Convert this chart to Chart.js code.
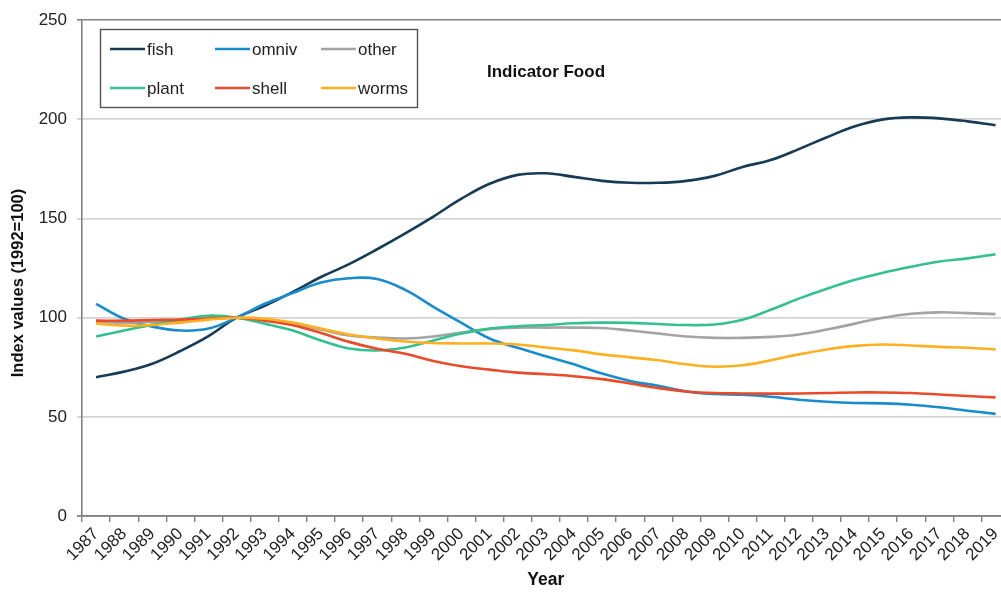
<!DOCTYPE html>
<html>
<head>
<meta charset="utf-8">
<script src="https://cdn.jsdelivr.net/npm/chart.js@4.4.1/dist/chart.umd.min.js"></script>
<style>
  html, body { margin: 0; padding: 0; background: #fff; overflow: hidden; }
  #wrap { width: 1001px; height: 592px; overflow: hidden; position: relative; }
  canvas { display: block; }
</style>
</head>
<body>
<div id="wrap"><canvas id="c" width="1012" height="592" style="width:1012px;height:592px"></canvas></div>
<script>
const years = ['1987','1988','1989','1990','1991','1992','1993','1994','1995','1996','1997','1998','1999','2000','2001','2002','2003','2004','2005','2006','2007','2008','2009','2010','2011','2012','2013','2014','2015','2016','2017','2018','2019'];
const fish  = [70,72.8,76.8,83.2,90.7,100,106,113,120.5,127,134.5,142.5,151,160,167.5,172,172.8,171,169,168,168,169,171.5,176,179.5,185,191,196.5,200,201,200.5,199,197];
const omniv = [107,99.5,95.5,93.5,94.5,100,107,112.4,117.7,119.9,119.5,114,105.5,97.4,89.5,84.8,80.6,76.5,71.8,68.1,65.6,62.8,61.5,61.1,60.1,58.6,57.6,57,56.8,56.1,54.8,53.1,51.5];
const other = [98,97.5,98,98.5,99.5,100,99,97,94,91,90,89.5,90.5,92.5,94.3,95,95,95,94.8,93.5,92,90.5,89.8,89.8,90.3,91.5,94,97,100,102,102.7,102.3,101.8];
const plant = [90.5,93.5,96.5,99,101,100,97,93.5,88.5,84.5,83.5,85,88.5,92,94.5,95.7,96.3,97.2,97.5,97.4,96.8,96.3,96.6,99,104,109.6,114.6,119.1,122.7,125.7,128.3,129.9,132];
const shell = [98.5,98.5,98.8,99,99.5,100,98.5,96.2,92.3,87.8,84.3,81.8,78.2,75.5,73.8,72.3,71.5,70.5,69,66.8,64.5,62.8,62,61.8,61.7,61.8,62,62.3,62.3,62,61.3,60.5,59.8];
const worms = [97,96,96.3,97.5,99,100,99.5,97.5,94.5,91.5,89.5,88,87.2,87,87,86.5,85,83.5,81.5,80,78.5,76.5,75.3,76,78.5,81.5,84,85.8,86.5,86,85.3,84.8,84];
const seriesNames = ['fish','omniv','other','plant','shell','worms'];
const seriesColors = ['#173b54','#1a8bcb','#a3a3a3','#34c08f','#e84a2a','#ffb020'];
const yTicks = [0,50,100,150,200,250];
const chartTitle = 'Indicator Food';
const yTitle = 'Index values (1992=100)';
const xTitle = 'Year';

const FONT = "'Liberation Sans', Arial, sans-serif";
const seriesData = [fish, omniv, other, plant, shell, worms];

const datasets = seriesNames.map((n, i) => ({
  label: n,
  data: seriesData[i],
  borderColor: seriesColors[i],
  backgroundColor: seriesColors[i],
  borderWidth: 2.6,
  pointRadius: 0,
  pointHoverRadius: 0,
  tension: 0.4,
  fill: false,
  order: seriesNames.length - i
}));

const decor = {
  id: 'decor',
  afterDraw(chart) {
    const ctx = chart.ctx;
    ctx.save();
    // legend box
    ctx.strokeStyle = '#555';
    ctx.lineWidth = 1.4;
    ctx.strokeRect(100.5, 29.5, 317, 78);
    const cols = [110, 215, 321];
    const rows = [49, 88];
    ctx.font = '17px ' + FONT;
    ctx.textBaseline = 'middle';
    ctx.textAlign = 'left';
    chart.data.datasets.forEach((ds, i) => {
      const x = cols[i % 3], y = rows[Math.floor(i / 3)];
      ctx.strokeStyle = ds.borderColor;
      ctx.lineWidth = 2.6;
      ctx.beginPath();
      ctx.moveTo(x, y);
      ctx.lineTo(x + 35, y);
      ctx.stroke();
      ctx.fillStyle = '#222';
      ctx.fillText(ds.label, x + 37, y + 1);
    });
    // chart title inside plot
    ctx.font = 'bold 17px ' + FONT;
    ctx.textAlign = 'center';
    ctx.fillStyle = '#111';
    ctx.fillText(chartTitle, 546, 72);
    // y title
    ctx.translate(18, 283);
    ctx.rotate(-Math.PI / 2);
    ctx.font = 'bold 16.5px ' + FONT;
    ctx.fillText(yTitle, 0, 0);
    ctx.restore();
  }
};

new Chart(document.getElementById('c'), {
  type: 'line',
  data: { labels: years, datasets },
  options: {
    responsive: false,
    devicePixelRatio: 1,
    animation: false,
    events: [],
    layout: { padding: { top: 17, right: 0, left: 0, bottom: 0 } },
    plugins: { legend: { display: false }, title: { display: false }, tooltip: { enabled: false } },
    scales: {
      x: {
        type: 'category',
        offset: true,
        grid: { offset: true, drawOnChartArea: false, drawTicks: true, tickLength: 6, color: '#808080', lineWidth: 1.4 },
        border: { color: '#808080', width: 1.6 },
        ticks: { autoSkip: false, maxRotation: 45, minRotation: 45, padding: 2, color: '#222', font: { family: FONT, size: 17 } },
        title: { display: true, text: xTitle, color: '#111', font: { family: FONT, size: 17.5, weight: 'bold' }, padding: { top: 0, bottom: 1 } },
        afterFit(s) { s.height = 76; }
      },
      y: {
        min: 0, max: 250,
        afterBuildTicks(s) { s.ticks = yTicks.map(v => ({ value: v })); },
        grid: {
          drawTicks: true, tickLength: 5,
          color: c => (c.tick && (c.tick.value === 250 || c.tick.value === 0)) ? '#808080' : '#d4d4d4',
          lineWidth: c => (c.tick && c.tick.value === 250) ? 1.6 : 1.8
        },
        border: { color: '#808080', width: 1.6 },
        ticks: { padding: 10, color: '#222', font: { family: FONT, size: 17 } },
        afterFit(s) { s.width = 82; }
      }
    }
  },
  plugins: [decor]
});
</script>
</body>
</html>
